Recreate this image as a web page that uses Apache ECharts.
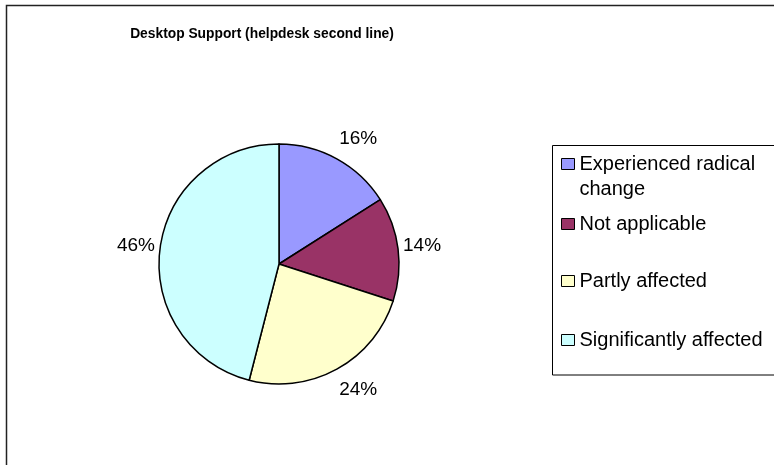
<!DOCTYPE html>
<html>
<head>
<meta charset="utf-8">
<title>Desktop Support (helpdesk second line)</title>
<script src="https://cdn.jsdelivr.net/npm/echarts@6/dist/echarts.min.js"></script>
<style>
  html, body { margin: 0; padding: 0; background: #fff; }
  #chart { width: 774px; height: 465px; }
</style>
</head>
<body>
<div id="chart"></div>
<script>
// Survey answers for the second-line helpdesk group
const categories = ['Experienced radical change', 'Not applicable', 'Partly affected', 'Significantly affected'];
const shares = [16, 14, 24, 46];
const sliceColors = ['#9999FF', '#993366', '#FFFFCC', '#CCFFFF'];
const chartTitle = 'Desktop Support (helpdesk second line)';

const total = shares.reduce((a, b) => a + b, 0);
// Mid angle of each slice, measured clockwise from 12 o'clock
const midAngles = shares.map((v, i) => {
  const before = shares.slice(0, i).reduce((a, b) => a + b, 0);
  return (before + v / 2) / total * Math.PI * 2;
});

const FONT = "'Liberation Sans', Arial, sans-serif";
// one legend block per entry so each key sits on its own row of the frame
const legendTops = [126.5, 211.5, 268.5, 327.5];

const legends = categories.map((name, i) => ({
  data: [name],
  orient: 'vertical',
  left: 561,
  top: legendTops[i],
  padding: 0,
  selectedMode: false,
  icon: 'rect',
  itemWidth: 13,
  itemHeight: 11,
  itemStyle: { borderColor: '#000', borderWidth: 1 },
  // the long entry wraps; a leading blank line keeps its first row level with the key
  formatter: n => n === 'Experienced radical change' ? '\nExperienced radical\nchange' : n,
  textStyle: {
    fontFamily: FONT,
    fontSize: 20,
    color: '#000',
    lineHeight: 25
  }
}));

const chart = echarts.init(document.getElementById('chart'), null, { renderer: 'canvas' });
chart.setOption({
  animation: false,
  backgroundColor: '#fff',
  title: {
    text: chartTitle,
    left: 262,
    top: 24,
    padding: 0,
    textAlign: 'center',
    textStyle: {
      fontFamily: FONT,
      fontWeight: 'bold',
      fontSize: 13.8,
      lineHeight: 20,
      color: '#000'
    }
  },
  legend: legends,
  graphic: [
    {
      type: 'rect',
      z: -1,
      shape: { x: 6.5, y: 5.5, width: 900, height: 600 },
      style: { fill: 'none', stroke: '#222', lineWidth: 1.5 }
    },
    {
      type: 'rect',
      z: -1,
      shape: { x: 552.5, y: 145.5, width: 300, height: 229.5 },
      style: { fill: 'none', stroke: '#000', lineWidth: 1 }
    }
  ],
  series: [{
    type: 'pie',
    center: [279, 264],
    radius: 120,
    startAngle: 90,
    clockwise: true,
    avoidLabelOverlap: false,
    silent: true,
    data: categories.map((name, i) => ({
      name,
      value: shares[i],
      itemStyle: { color: sliceColors[i] }
    })),
    itemStyle: { borderColor: '#000', borderWidth: 1.5 },
    label: {
      show: true,
      position: 'outside',
      distanceToLabelLine: 0,
      formatter: p => Math.round(p.percent) + '%',
      fontFamily: FONT,
      fontSize: 19,
      color: '#000'
    },
    labelLine: { show: false, length: 5, length2: 0 },
    // push each label box clear of the rim along the vertical direction
    labelLayout: params => ({ dy: -Math.cos(midAngles[params.dataIndex]) * 18 })
  }]
});
</script>
</body>
</html>
